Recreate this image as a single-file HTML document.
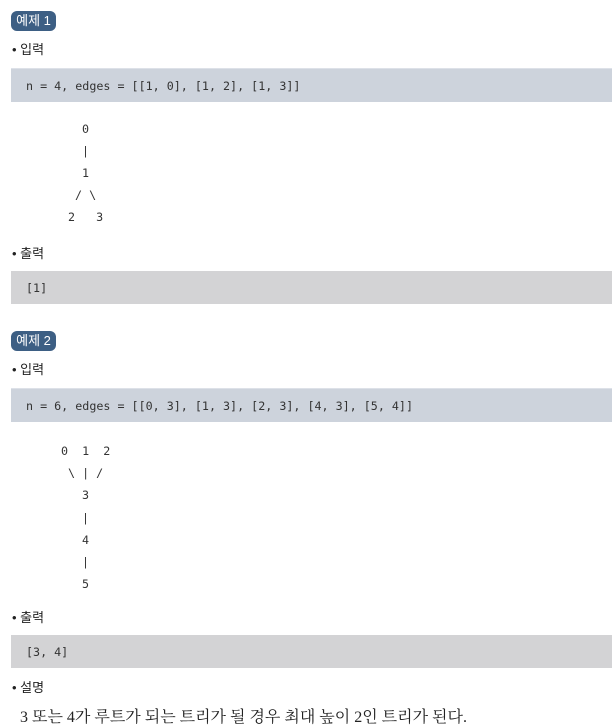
<!DOCTYPE html>
<html><head><meta charset="utf-8"><style>
body{margin:0;width:616px;height:727px;background:#fff;position:relative;overflow:hidden;font-family:"Liberation Sans","Noto Sans CJK KR",sans-serif;color:#222}
.a{position:absolute;white-space:pre}
.badge{position:absolute;left:11px;width:45px;height:20px;background:#3d5f84;color:#fff;border-radius:6px;font-size:13px;line-height:20px;text-align:center}
.lbl{position:absolute;left:12px;font-size:13px;line-height:16px}
.box{position:absolute;left:11px;width:601px;height:33px}
.in{background:#cdd3dc;border-top:1px solid #dde1e8}
.out{background:#d3d3d5}
.m{font-family:"DejaVu Sans Mono","Liberation Mono",monospace;font-size:11.7px;line-height:16px;position:absolute;white-space:pre;color:#333}
</style></head><body>
<div class="badge" style="top:11px">예제 1</div>
<div class="lbl" style="top:42px">• 입력</div>
<div class="box in" style="top:68px"></div>
<div class="m" style="left:26px;top:78px">n = 4, edges = [[1, 0], [1, 2], [1, 3]]</div>
<div class="m" style="left:82px;top:121px">0</div>
<div class="m" style="left:82px;top:143px">|</div>
<div class="m" style="left:82px;top:165px">1</div>
<div class="m" style="left:75px;top:187px">/ \</div>
<div class="m" style="left:68px;top:209px">2   3</div>
<div class="lbl" style="top:246px">• 출력</div>
<div class="box out" style="top:271px"></div>
<div class="m" style="left:26px;top:280px">[1]</div>

<div class="badge" style="top:331px">예제 2</div>
<div class="lbl" style="top:362px">• 입력</div>
<div class="box in" style="top:388px"></div>
<div class="m" style="left:26px;top:398px">n = 6, edges = [[0, 3], [1, 3], [2, 3], [4, 3], [5, 4]]</div>
<div class="m" style="left:61px;top:443px">0  1  2</div>
<div class="m" style="left:68px;top:465px">\ | /</div>
<div class="m" style="left:82px;top:487px">3</div>
<div class="m" style="left:82px;top:510px">|</div>
<div class="m" style="left:82px;top:532px">4</div>
<div class="m" style="left:82px;top:554px">|</div>
<div class="m" style="left:82px;top:576px">5</div>
<div class="lbl" style="top:610px">• 출력</div>
<div class="box out" style="top:635px"></div>
<div class="m" style="left:26px;top:644px">[3, 4]</div>
<div class="lbl" style="top:680px">• 설명</div>
<div class="a" style="left:20px;top:708px;font-family:'Liberation Serif','Noto Serif CJK SC',serif;font-size:16px;line-height:20px;color:#222">3 또는 4가 루트가 되는 트리가 될 경우 최대 높이 2인 트리가 된다.</div>
</body></html>
